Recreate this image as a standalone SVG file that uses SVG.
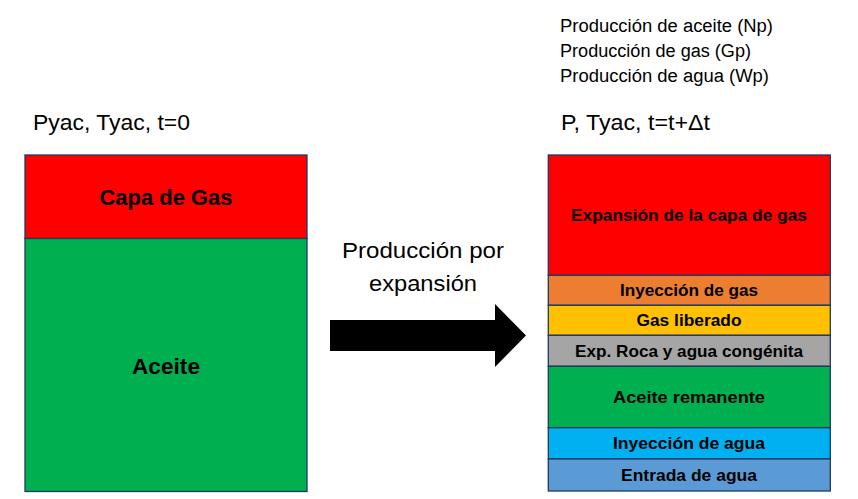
<svg xmlns="http://www.w3.org/2000/svg" width="858" height="499" viewBox="0 0 858 499">
<style>
.box{stroke:#1F3864;stroke-width:1.3}
.lbl{font-family:"Liberation Sans",Arial,sans-serif;font-weight:bold;fill:#000;text-anchor:middle}
.txt{font-family:"Liberation Sans",Arial,sans-serif;fill:#000}
</style>
<rect width="858" height="499" fill="#fff"/>
<g id="top-labels">
<text class="txt" x="560" y="32" font-size="18" textLength="213" lengthAdjust="spacingAndGlyphs">Producción de aceite (Np)</text>
<text class="txt" x="560" y="57" font-size="18" textLength="191" lengthAdjust="spacingAndGlyphs">Producción de gas (Gp)</text>
<text class="txt" x="560" y="82" font-size="18" textLength="209" lengthAdjust="spacingAndGlyphs">Producción de agua (Wp)</text>
<text class="txt" x="33" y="130" font-size="22" textLength="157" lengthAdjust="spacingAndGlyphs">Pyac, Tyac, t=0</text>
<text class="txt" x="561" y="130" font-size="22" textLength="149" lengthAdjust="spacingAndGlyphs">P, Tyac, t=t+Δt</text>
</g>
<g id="left-gas-cap">
<rect class="box" x="25" y="155" width="282" height="83.5" fill="#FF0000"/>
<text class="lbl" x="166" y="205" font-size="22" textLength="133" lengthAdjust="spacingAndGlyphs">Capa de Gas</text>
</g>
<g id="left-oil">
<rect class="box" x="25" y="238.5" width="282" height="253" fill="#00B050"/>
<text class="lbl" x="166" y="374" font-size="22" textLength="68" lengthAdjust="spacingAndGlyphs">Aceite</text>
</g>
<g id="right-gas-cap-expansion">
<rect class="box" x="548.3" y="155" width="282" height="120.3" fill="#FF0000"/>
<text class="lbl" x="689" y="221" font-size="16.5" textLength="236" lengthAdjust="spacingAndGlyphs">Expansión de la capa de gas</text>
</g>
<g id="right-gas-injection">
<rect class="box" x="548.3" y="275.3" width="282" height="30" fill="#ED7D31"/>
<text class="lbl" x="689" y="296" font-size="16.5" textLength="138" lengthAdjust="spacingAndGlyphs">Inyección de gas</text>
</g>
<g id="right-liberated-gas">
<rect class="box" x="548.3" y="305.3" width="282" height="30" fill="#FFC000"/>
<text class="lbl" x="689" y="326" font-size="16.5" textLength="105" lengthAdjust="spacingAndGlyphs">Gas liberado</text>
</g>
<g id="right-rock-water-expansion">
<rect class="box" x="548.3" y="335.3" width="282" height="31" fill="#A5A5A5"/>
<text class="lbl" x="689" y="356.5" font-size="16.5" textLength="228" lengthAdjust="spacingAndGlyphs">Exp. Roca y agua congénita</text>
</g>
<g id="right-remaining-oil">
<rect class="box" x="548.3" y="366.3" width="282" height="61.4" fill="#00B050"/>
<text class="lbl" x="689" y="403" font-size="16.5" textLength="152" lengthAdjust="spacingAndGlyphs">Aceite remanente</text>
</g>
<g id="right-water-injection">
<rect class="box" x="548.3" y="427.7" width="282" height="31.3" fill="#00B0F0"/>
<text class="lbl" x="689" y="449" font-size="16.5" textLength="152" lengthAdjust="spacingAndGlyphs">Inyección de agua</text>
</g>
<g id="right-water-influx">
<rect class="box" x="548.3" y="459" width="282" height="32" fill="#5B9BD5"/>
<text class="lbl" x="689" y="481" font-size="16.5" textLength="136" lengthAdjust="spacingAndGlyphs">Entrada de agua</text>
</g>
<g id="connectors">
<polygon points="330,320 495,320 495,304 526,335.5 495,367 495,351 330,351" fill="#000"/>
<text class="txt" x="423" y="258" font-size="22" text-anchor="middle" textLength="162" lengthAdjust="spacingAndGlyphs">Producción por</text>
<text class="txt" x="423" y="291" font-size="22" text-anchor="middle" textLength="108" lengthAdjust="spacingAndGlyphs">expansión</text>
</g>
</svg>
